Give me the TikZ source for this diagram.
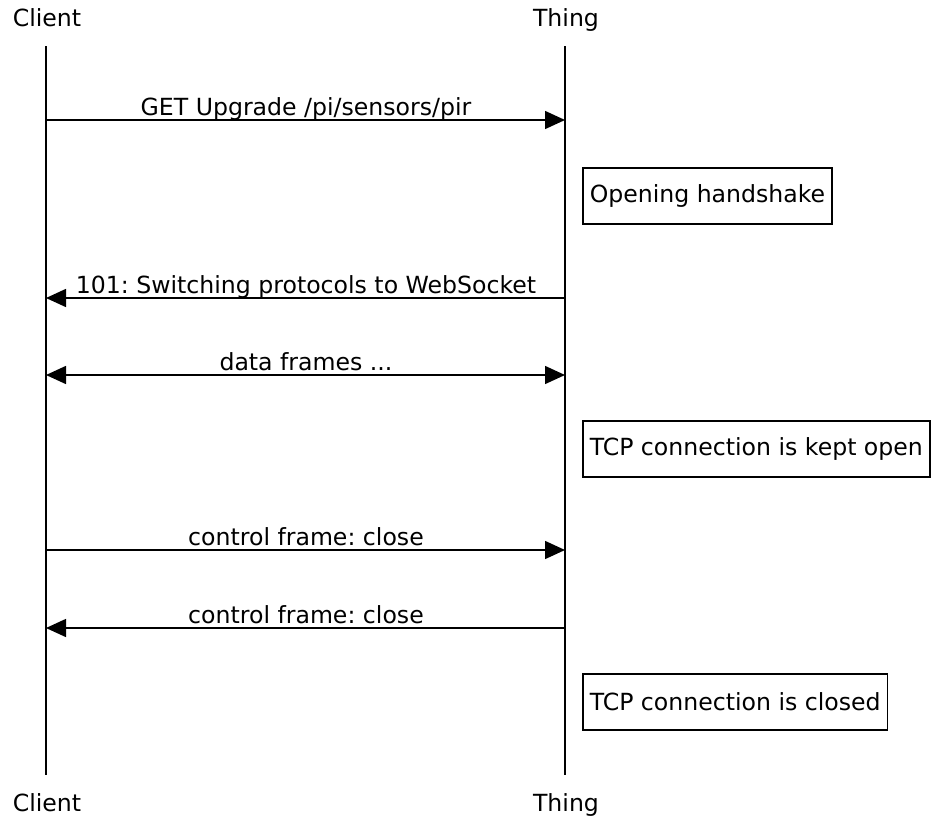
\documentclass[tikz,border=0pt]{standalone}
\usepackage{fontspec}
\setmainfont{DejaVu Sans}
\usetikzlibrary{arrows.meta}
\frenchspacing
\begin{document}
\begin{tikzpicture}[x=1pt,y=-1pt,
  font=\fontsize{23.6}{28}\selectfont,
  lifeline/.style={line width=1.5pt},
  tip/.tip={Triangle[length=20pt,width=18pt]},
  msg/.style={line width=1.5pt,-tip},
  msgboth/.style={line width=1.5pt,tip-tip},
  actor/.style={anchor=base,inner sep=0pt},
  msglabel/.style={anchor=base,inner sep=0pt},
  note/.style={draw,line width=1.5pt,anchor=north west,minimum height=56pt,inner xsep=7pt,inner ysep=0pt}]
  \useasboundingbox (0,0) rectangle (932,819);

  % participants
  \node[actor] (ctop) at (47,27) {Client};
  \node[actor] (ttop) at (566,27) {Thing};
  \node[actor] (cbot) at (47,811) {Client};
  \node[actor] (tbot) at (566,811) {Thing};

  % lifelines
  \coordinate (cstart) at (46,46); \coordinate (cend) at (46,775);
  \coordinate (tstart) at (565,46); \coordinate (tend) at (565,775);
  \draw[lifeline] (cstart) -- (cend);
  \draw[lifeline] (tstart) -- (tend);

  % message anchors on the lifelines
  \foreach \n/\y in {1/120,2/298,3/375,4/550,5/628}{
    \coordinate (c\n) at (46,\y);
    \coordinate (t\n) at (565,\y);
  }

  \draw[msg] (c1) -- (t1);
  \draw[msg] (t2) -- (c2);
  \draw[msgboth] (c3) -- (t3);
  \draw[msg] (c4) -- (t4);
  \draw[msg] (t5) -- (c5);

  % message labels
  \node[msglabel] (l1) at (306,115) {GET Upgrade /pi/sensors/pir};
  \node[msglabel] (l2) at (306,293) {101: Switching protocols to WebSocket};
  \node[msglabel] (l3) at (306,370) {data frames ...};
  \node[msglabel] (l4) at (306,545) {control frame: close};
  \node[msglabel] (l5) at (306,623) {control frame: close};

  % notes
  \node[note] (n1) at (582,167) {Opening handshake};
  \node[note] (n2) at (582,420) {TCP connection is kept open};
  \node[note] (n3) at (582,673) {TCP connection is closed};
\end{tikzpicture}
\end{document}
